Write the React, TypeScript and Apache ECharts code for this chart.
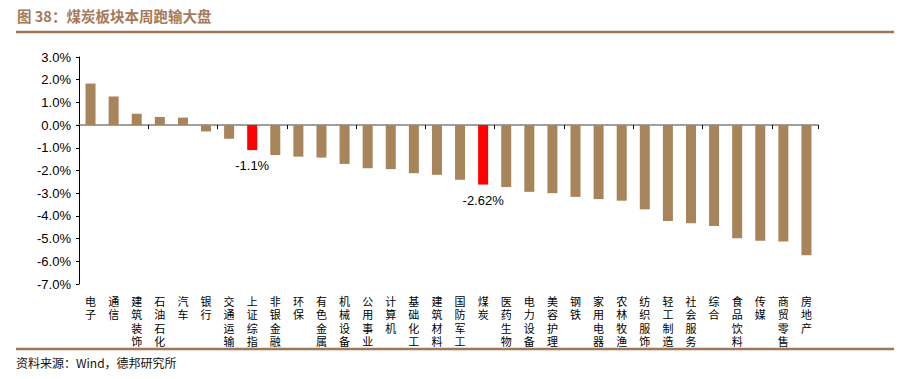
import React, { useEffect, useRef } from "react";
import * as echarts from "echarts";

const categories = [
  "电子", "通信", "建筑装饰", "石油石化", "汽车", "银行", "交通运输", "上证综指",
  "非银金融", "环保", "有色金属", "机械设备", "公用事业", "计算机", "基础化工", "建筑材料",
  "国防军工", "煤炭", "医药生物", "电力设备", "美容护理", "钢铁", "家用电器", "农林牧渔",
  "纺织服饰", "轻工制造", "社会服务", "综合", "食品饮料", "传媒", "商贸零售", "房地产",
];
const values = [
  1.83, 1.26, 0.5, 0.36, 0.33, -0.28, -0.6, -1.1,
  -1.32, -1.39, -1.43, -1.71, -1.9, -1.94, -2.12, -2.19,
  -2.41, -2.62, -2.73, -2.94, -3.0, -3.16, -3.26, -3.33,
  -3.71, -4.22, -4.32, -4.45, -4.99, -5.1, -5.13, -5.73,
];
const highlighted = ["上证综指", "煤炭"];
const yTicks = { min: -7, max: 3, interval: 1 };
const titleText = "图 38：煤炭板块本周跑输大盘";
const sourceText = "资料来源：Wind，德邦研究所";

export default function App() {
  const ref = useRef<HTMLDivElement>(null);
  useEffect(() => {
    if (!ref.current) return;
    const chart = echarts.init(ref.current, undefined, { renderer: "svg" });
    const brown = "#a8845b";
    const data = categories.map((c, i) => {
      const hl = highlighted.includes(c);
      return {
        value: values[i],
        itemStyle: { color: hl ? "#ff0000" : brown },
        label: hl
          ? {
              show: true,
              position: "bottom",
              distance: 9,
              formatter: (p: any) => `${p.value}%`,
              fontFamily: "Liberation Sans, Arial, sans-serif",
              fontSize: 13,
              color: "#000",
            }
          : { show: false },
      };
    });
    chart.setOption({
      animation: false,
      grid: { left: 79, right: 82, top: 57, bottom: 95, containLabel: false },
      xAxis: [
        {
          type: "category",
          data: categories,
          position: "top",
          axisLine: { onZero: true, lineStyle: { color: "#808080", width: 1.5 } },
          axisTick: { show: true, inside: true, length: 4, lineStyle: { color: "#000" } },
          axisLabel: { show: false },
          splitLine: { show: false },
        },
        {
          type: "category",
          data: categories,
          position: "bottom",
          axisLine: { show: false, onZero: false },
          axisTick: { show: false },
          axisLabel: {
            interval: 0,
            margin: 10,
            fontFamily: "Noto Sans CJK SC",
            fontSize: 11,
            lineHeight: 13.5,
            color: "#000",
            verticalAlign: "top",
            formatter: (v: string) => v.split("").join("\n"),
          },
        },
      ],
      yAxis: {
        type: "value",
        min: yTicks.min,
        max: yTicks.max,
        interval: yTicks.interval,
        axisLine: { show: true, lineStyle: { color: "#000", width: 1 } },
        axisTick: { show: true, length: 3, lineStyle: { color: "#000" } },
        splitLine: { show: false },
        axisLabel: {
          margin: 8,
          fontFamily: "Liberation Sans, Arial, sans-serif",
          fontSize: 13,
          color: "#000",
          formatter: (v: number) => `${v.toFixed(1)}%`,
        },
      },
      series: [
        {
          type: "bar",
          xAxisIndex: 0,
          barWidth: 10,
          data,
        },
      ],
      graphic: [
        {
          type: "text",
          left: 17,
          top: 8,
          style: {
            text: titleText,
            fontFamily: "Noto Sans CJK SC",
            fontWeight: "bold",
            fontSize: 14.5,
            fill: "#a47a5a",
          },
        },
        {
          type: "line",
          shape: { x1: 16, y1: 32, x2: 894, y2: 32 },
          style: { stroke: "#a07656", lineWidth: 2.5 },
        },
        {
          type: "line",
          shape: { x1: 16, y1: 349, x2: 894, y2: 349 },
          style: { stroke: "#a07656", lineWidth: 2.5 },
        },
        {
          type: "text",
          left: 16,
          top: 356,
          style: {
            text: sourceText,
            fontFamily: "Noto Sans CJK SC",
            fontSize: 12,
            fill: "#111",
          },
        },
      ],
    });
    return () => chart.dispose();
  }, []);
  return (
    <div
      ref={ref}
      style={{ position: "fixed", left: 0, top: 0, width: 900, height: 379, background: "#fff" }}
    />
  );
}
